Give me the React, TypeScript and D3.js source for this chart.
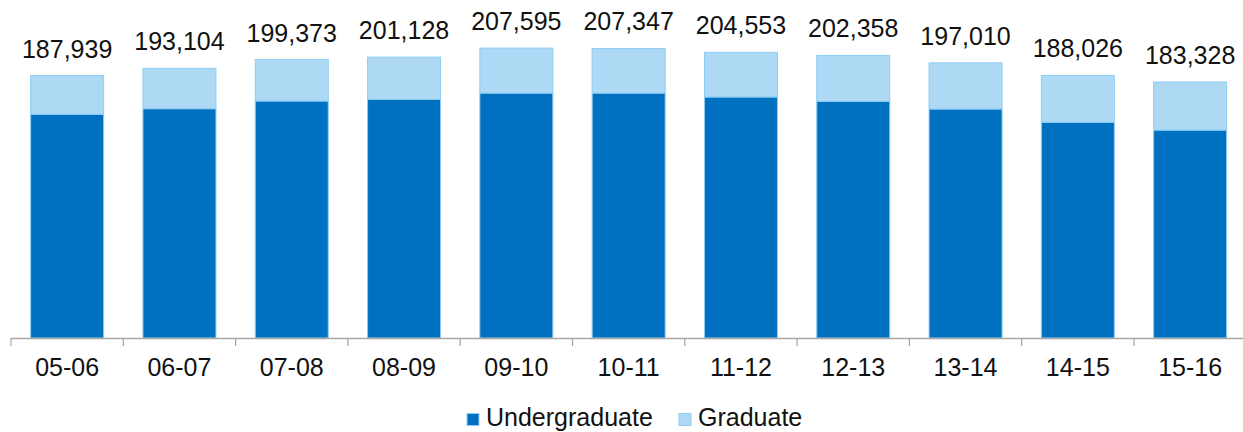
import React from "react";
import * as d3 from "d3";

const categories = ["05-06","06-07","07-08","08-09","09-10","10-11","11-12","12-13","13-14","14-15","15-16"];
const totals = [187939,193104,199373,201128,207595,207347,204553,202358,197010,188026,183328];
const undergraduate = [160200,164200,169700,170900,175400,175400,172600,169500,164000,154500,148900];
const graduate = totals.map((t, i) => t - undergraduate[i]);
const seriesNames = ["Undergraduate", "Graduate"];

const W = 1243, H = 432;
const x0 = 11, bandW = 112.3, baseY = 338;
const k = 0.0013965;

export default function App() {
  const x = d3.scaleBand<string>().domain(categories).range([x0, x0 + bandW * categories.length]).paddingInner(0.35).paddingOuter(0.175);
  const y = d3.scaleLinear().domain([0, 250000]).range([baseY, baseY - 250000 * k]);
  const rows = categories.map((c, i) => ({ cat: c, Undergraduate: undergraduate[i], Graduate: graduate[i] }));
  const stack = d3.stack<any>().keys(seriesNames)(rows);
  const colors = ["#0070C0", "#ADD9F5"];
  const font = "Arial, 'Liberation Sans', sans-serif";
  const tickXs = categories.map((c, i) => x0 + bandW * i).concat([x0 + bandW * categories.length]);
  return (
    <svg width={W} height={H} style={{ position: "absolute", left: 0, top: 0, background: "#fff" }} fontFamily={font}>
      {stack.map((s, si) => (
        <g key={si}>
          {s.map((d, i) => (
            <rect key={i} x={x(categories[i])!} y={y(d[1])} width={x.bandwidth()} height={y(d[0]) - y(d[1])}
              fill={colors[si]} stroke="#8ECDF3" strokeWidth={1} />
          ))}
        </g>
      ))}
      <line x1={x0} x2={W} y1={baseY + 0.5} y2={baseY + 0.5} stroke="#A6A6A6" strokeWidth={1.5} />
      {tickXs.map((tx, i) => (
        <line key={i} x1={tx} x2={tx} y1={baseY} y2={baseY + 8} stroke="#A6A6A6" strokeWidth={1.2} />
      ))}
      {categories.map((c, i) => (
        <text key={c} x={x(c)! + x.bandwidth() / 2} y={376} textAnchor="middle" fontSize={25} fill="#111">{c}</text>
      ))}
      {totals.map((t, i) => (
        <text key={i} x={x(categories[i])! + x.bandwidth() / 2} y={y(t) - 18} textAnchor="middle" fontSize={25} fill="#111">
          {d3.format(",")(t)}
        </text>
      ))}
      <g>
        <rect x={467} y={413.5} width={12} height={12} fill={colors[0]} stroke="#8ECDF3" strokeWidth={1} />
        <text x={486} y={426} fontSize={25} fill="#111">{seriesNames[0]}</text>
        <rect x={679} y={413.5} width={12} height={12} fill={colors[1]} stroke="#8ECDF3" strokeWidth={1} />
        <text x={698} y={426} fontSize={25} fill="#111">{seriesNames[1]}</text>
      </g>
    </svg>
  );
}
